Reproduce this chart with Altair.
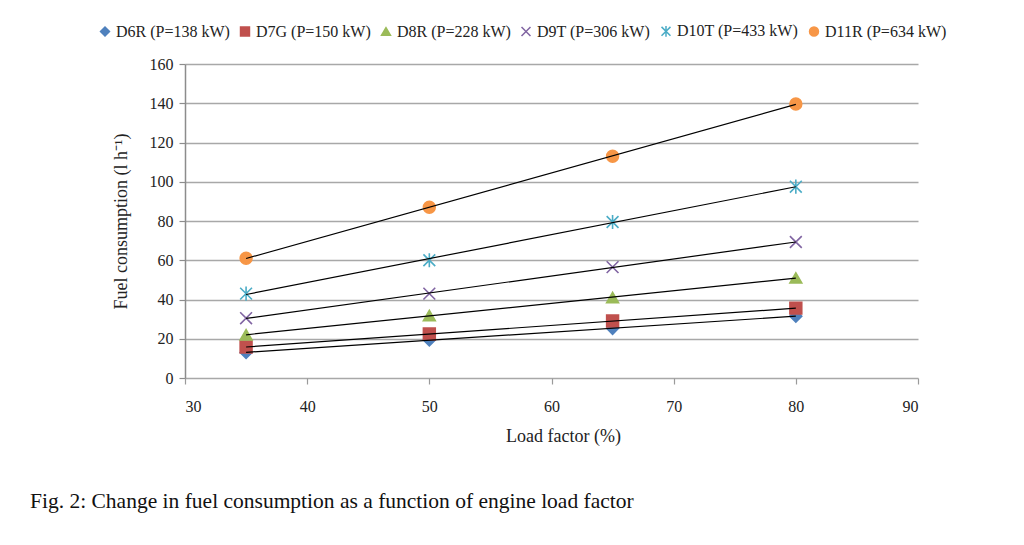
import altair as alt
import pandas as pd

engines = ["D6R (P=138 kW)", "D7G (P=150 kW)", "D8R (P=228 kW)",
           "D9T (P=306 kW)", "D10T (P=433 kW)", "D11R (P=634 kW)"]
load = [35, 50, 65, 80]
fuel = {
    "D6R (P=138 kW)": [13, 19.4, 25.3, 31.5],
    "D7G (P=150 kW)": [15.8, 22.4, 29, 35.6],
    "D8R (P=228 kW)": [22, 31.8, 41, 51],
    "D9T (P=306 kW)": [30.5, 43, 56.5, 69.3],
    "D10T (P=433 kW)": [43, 60, 79.5, 97.5],
    "D11R (P=634 kW)": [61, 87, 113, 139.6],
}
colors = ["#4F81BD", "#C0504D", "#9BBB59", "#8064A2", "#4BACC6", "#F79646"]
shapes = ["diamond", "square", "triangle-up",
          "M-1,-1L1,1M-1,1L1,-1",
          "M-1,-1L1,1M-1,1L1,-1M0,-1.2L0,1.2",
          "circle"]

rows = []
for e in engines:
    for x, y in zip(load, fuel[e]):
        rows.append({"engine": e, "load": x, "fuel": y})
df = pd.DataFrame(rows)

FONT = "Liberation Serif"

xenc = alt.X("load:Q", scale=alt.Scale(domain=[30, 90]),
             axis=alt.Axis(values=[30, 40, 50, 60, 70, 80, 90], title="Load factor (%)",
                           grid=False, domain=False, ticks=True, tickSize=6,
                           tickColor="#9a9a9a", tickWidth=1.2, labelPadding=14,
                           titlePadding=13, titleX=378))
yenc = alt.Y("fuel:Q", scale=alt.Scale(domain=[0, 160]),
             axis=alt.Axis(values=[0, 20, 40, 60, 80, 100, 120, 140, 160],
                           title="Fuel consumption (l h\u207b\u00b9)",
                           grid=True, gridColor="#a8a8a8", gridWidth=1.5,
                           domain=True, domainColor="#8c8c8c", domainWidth=1.5,
                           tickSize=6, tickColor="#8c8c8c", tickWidth=1.2,
                           labelPadding=6, titlePadding=19))

base = alt.Chart(df)

trend = base.transform_regression(
    "load", "fuel", groupby=["engine"], method="linear", extent=[35, 80]
).mark_line(color="black", strokeWidth=1.2).encode(
    x=xenc, y=yenc, detail="engine:N"
)

leg = alt.Legend(title=None, orient="none", legendX=-88, legendY=-41,
                 direction="horizontal", columns=6, columnPadding=7,
                 symbolSize=80, symbolStrokeWidth=1.5, labelFontSize=16,
                 labelFont=FONT, labelColor="#222", labelOffset=3)

points = base.mark_point(filled=True, size=140, strokeWidth=1.6, opacity=1).encode(
    x=xenc, y=yenc,
    fill=alt.Fill("engine:N", scale=alt.Scale(domain=engines, range=colors), legend=leg, title=None),
    stroke=alt.Stroke("engine:N", scale=alt.Scale(domain=engines, range=colors), legend=leg, title=None),
    shape=alt.Shape("engine:N", scale=alt.Scale(domain=engines, range=shapes), legend=leg, title=None),
)

chart = alt.layer(points, trend).properties(
    width=733, height=314,
    autosize=alt.AutoSizeParams(type="none"),
    padding={"left": 177, "top": 56, "right": 98, "bottom": 150},
    title=alt.TitleParams(
        "Fig. 2: Change in fuel consumption as a function of engine load factor",
        orient="bottom", anchor="start", frame="group", dx=-155, offset=46,
        font=FONT, fontSize=21.5, fontWeight="normal", color="#111"),
).configure_view(stroke=None).configure_axis(
    labelFont=FONT, titleFont=FONT, labelFontSize=16, titleFontSize=18,
    titleFontWeight="normal", labelColor="#222", titleColor="#222"
)

chart.save("out.html", embed_options={"renderer": "svg", "actions": False})
